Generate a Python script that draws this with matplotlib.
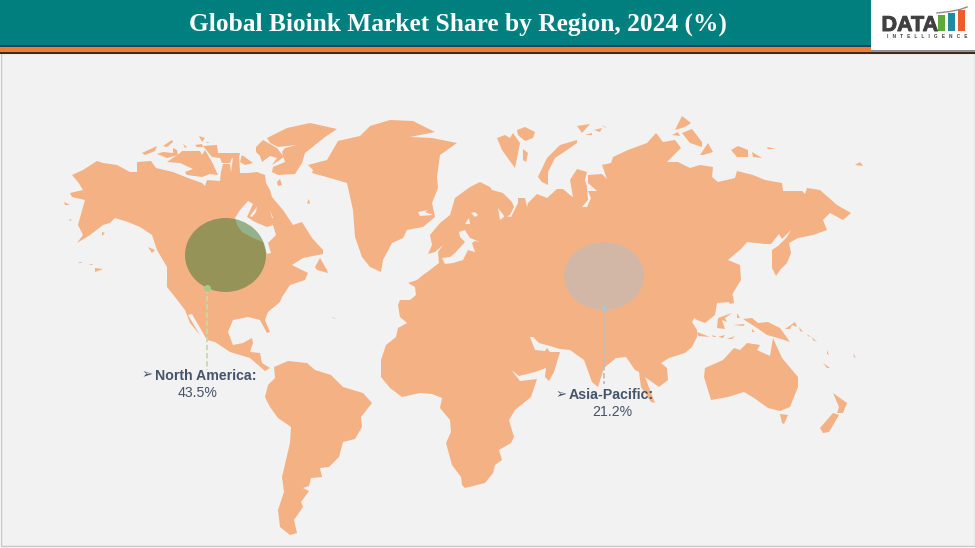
"""Global bioink market share map, drawn on a pixel-sized axes."""
import matplotlib
matplotlib.use("Agg")
import matplotlib.patheffects as pe
import matplotlib.pyplot as plt
from matplotlib.patches import Ellipse, Polygon, Rectangle

TITLE = "Global Bioink Market Share by Region, 2024 (%)"
REGIONS = ["North America", "Asia-Pacific"]
SHARES = [43.5, 21.2]

LAND_COLOR = "#F4B183"
SEA_COLOR = "#F2F2F2"
INK = "#44546A"
TEXT_FONTS = ["Liberation Sans", "DejaVu Sans"]

# outlines, in image pixels
NORTH_AMERICA = [
    (72, 175), (83, 170), (97, 161), (103, 163), (117, 165), (130, 172), (137, 172), (137, 162),
    (151, 161), (156, 168), (173, 172), (188, 178), (202, 183), (205, 186), (207, 180), (220, 181),
    (221, 172), (223, 164), (230, 164), (231, 172), (233, 158), (239, 154), (240, 173), (248, 173),
    (257, 172), (265, 175), (266, 183), (270, 190), (272, 197), (283, 210), (293, 225), (302, 222),
    (312, 238), (323, 250), (323, 254), (303, 258), (292, 265), (308, 273), (305, 280), (290, 285),
    (282, 297), (280, 302), (268, 312), (265, 320), (270, 332), (267, 333), (260, 320), (248, 317),
    (233, 320), (228, 332), (233, 345), (243, 343), (252, 338), (253, 343), (250, 352), (260, 353),
    (262, 363), (270, 368), (265, 371), (250, 358), (230, 352), (215, 342), (207, 340), (192, 314),
    (188, 315), (200, 335), (190, 323), (185, 310), (175, 297), (167, 287), (167, 267), (157, 250),
    (152, 235), (140, 227), (128, 222), (115, 218), (110, 223), (103, 225), (90, 235), (77, 243),
    (83, 235), (78, 225), (83, 207), (85, 200), (72, 197), (70, 193), (83, 190), (78, 182),
]
SOUTH_AMERICA = [
    (274, 367), (288, 361), (307, 363), (315, 370), (331, 375), (343, 387), (363, 393), (372, 403),
    (361, 417), (362, 427), (355, 439), (343, 442), (339, 457), (329, 467), (320, 468), (322, 477),
    (311, 478), (309, 486), (303, 488), (309, 491), (301, 502), (303, 507), (294, 520), (297, 533),
    (290, 535), (280, 527), (278, 510), (284, 492), (282, 477), (290, 443), (291, 427), (278, 418),
    (270, 407), (265, 397), (268, 385), (275, 378),
]
GREENLAND = [
    (308, 165), (327, 160), (338, 141), (360, 136), (370, 126), (390, 120), (413, 121), (435, 132),
    (410, 137), (432, 138), (457, 143), (440, 155), (437, 177), (438, 188), (432, 203), (435, 217),
    (423, 227), (407, 230), (403, 238), (392, 243), (383, 260), (381, 272), (370, 267), (362, 257),
    (355, 237), (353, 210), (347, 183), (330, 178), (312, 173), (313, 170),
]
AFRO_EURASIA = [
    # Scandinavia and the Arctic coast
    (428, 254), (432, 245), (430, 235), (440, 223), (450, 215), (455, 198), (470, 187), (480, 182),
    (490, 187), (492, 190), (503, 193), (512, 202), (514, 207), (510, 215), (505, 217), (498, 208),
    (500, 220), (505, 216), (511, 217), (518, 203), (518, 198), (525, 198), (527, 207), (528, 203),
    (537, 194), (547, 198), (557, 189), (563, 189), (570, 195), (573, 197), (570, 180), (577, 169),
    (587, 172), (585, 180), (587, 187), (588, 200), (582, 207), (587, 207), (591, 198), (588, 191),
    (597, 191), (588, 183), (588, 175), (602, 174), (607, 179), (602, 165), (611, 163), (613, 157),
    (628, 150), (647, 143), (656, 133), (663, 142), (675, 140), (681, 148), (667, 162), (678, 162),
    (690, 168), (700, 165), (713, 167), (712, 177), (718, 182), (735, 178), (737, 171), (753, 175),
    (765, 180), (782, 183), (783, 191), (802, 191), (805, 194), (807, 188), (820, 190), (837, 205),
    (851, 213), (843, 220), (830, 213), (823, 220), (827, 230), (813, 235),
    # Kamchatka and the Pacific side
    (798, 238), (789, 243), (791, 253), (787, 263), (780, 270), (776, 276), (772, 268), (772, 250),
    (778, 246), (787, 237), (791, 230), (782, 239), (779, 234), (771, 244), (765, 244), (747, 242),
    (742, 248), (728, 260), (740, 265), (741, 280), (733, 293), (730, 302), (717, 303), (715, 315),
    (705, 323), (697, 320), (688, 313), (695, 308), (698, 312), (692, 322), (697, 330), (697, 337),
    (692, 347), (685, 353), (669, 358), (661, 363), (667, 368), (668, 380), (659, 387), (645, 377),
    (655, 403), (651, 402), (641, 387), (639, 372), (635, 370), (626, 357), (616, 358), (604, 368),
    (598, 387), (592, 382), (584, 360), (570, 350), (560, 349), (550, 346), (539, 343), (533, 337),
    (530, 337), (535, 350), (545, 351), (547, 348), (550, 352), (560, 352), (554, 372), (549, 381),
    (545, 377), (546, 368), (535, 372), (519, 376), (509, 368), (503, 353), (494, 338),
    # Africa
    (501, 345), (507, 360), (513, 372), (520, 381), (537, 379), (531, 397), (515, 410), (509, 420),
    (514, 437), (511, 443), (499, 450), (502, 460), (495, 465), (493, 473), (485, 483), (465, 488),
    (462, 485), (461, 477), (452, 465), (446, 443), (451, 432), (450, 420), (440, 408), (442, 398),
    (432, 394), (420, 393), (402, 397), (390, 388), (381, 377), (381, 360), (386, 345), (396, 337),
    (398, 328), (407, 323), (400, 317),
    # western Europe
    (398, 305), (400, 300), (410, 300), (416, 295), (415, 287), (408, 283), (417, 280), (423, 275),
    (430, 270), (439, 263), (438, 252), (443, 245), (435, 252),
]
AUSTRALIA = [
    (705, 368), (723, 360), (734, 348), (740, 350), (747, 343), (760, 345), (757, 350), (770, 356),
    (773, 338), (782, 358), (798, 377), (798, 387), (790, 407), (780, 411), (768, 408), (754, 398),
    (744, 392), (728, 397), (711, 400), (704, 377),
]
ISLANDS = [
    # Canadian Arctic
    [(267, 138), (287, 128), (310, 123), (337, 129), (325, 137), (305, 153), (302, 163), (295, 174),
     (278, 175), (272, 172), (273, 167), (285, 162), (282, 152), (285, 148), (297, 145), (278, 147),
     (270, 143)],
    [(256, 147), (263, 140), (277, 148), (284, 157), (272, 165), (277, 158), (270, 156), (262, 162),
     (260, 156), (256, 152)],
    [(167, 162), (180, 153), (182, 151), (200, 151), (202, 155), (205, 150), (212, 162), (218, 175),
     (210, 174), (202, 177), (187, 175), (185, 172), (193, 169), (180, 163)],
    [(203, 146), (217, 145), (218, 153), (240, 153), (239, 157), (232, 158), (230, 163), (222, 163),
     (220, 158), (212, 157)],
    [(157, 154), (163, 152), (173, 153), (173, 148), (177, 150), (178, 155), (167, 158)],
    [(242, 155), (253, 163), (245, 165), (240, 162)],
    [(142, 153), (157, 146), (155, 151), (145, 155)],
    [(163, 146), (172, 140), (173, 142), (167, 147)],
    [(199, 136), (205, 138), (202, 142)],
    [(206, 142), (210, 142), (207, 143)],
    [(183, 144), (187, 147), (185, 148)],
    [(195, 145), (202, 144), (203, 147), (197, 147)],
    [(277, 182), (280, 179), (282, 185), (278, 186)],
    [(307, 203), (309, 199), (310, 204)],
    # Pacific coast and Atlantic Canada
    [(148, 247), (155, 250), (152, 253)],
    [(78, 262), (83, 262), (80, 263)],
    [(88, 264), (93, 264), (92, 265)],
    [(95, 268), (103, 269), (95, 272)],
    [(64, 202), (70, 205), (65, 205)],
    [(69, 219), (72, 220), (70, 221)],
    [(102, 232), (105, 233), (102, 236)],
    [(315, 267), (320, 258), (327, 270), (328, 273), (317, 270)],
    [(332, 317), (337, 319), (333, 318)],
    # Russian Arctic
    [(497, 138), (505, 135), (510, 138), (513, 133), (520, 143), (515, 168), (507, 157), (502, 150)],
    [(517, 130), (525, 127), (535, 132), (533, 138), (525, 141), (518, 135)],
    [(523, 149), (528, 153), (526, 162), (523, 160)],
    [(538, 177), (547, 158), (560, 145), (577, 140), (577, 143), (567, 150), (555, 158), (548, 172),
     (548, 185), (542, 182)],
    [(577, 126), (590, 124), (582, 133)],
    [(585, 135), (592, 133), (592, 135)],
    [(594, 130), (602, 128), (600, 132)],
    [(602, 125), (607, 128), (604, 127)],
    [(675, 130), (682, 116), (691, 123), (685, 127)],
    [(672, 135), (678, 132), (680, 136)],
    [(682, 133), (692, 129), (702, 142), (702, 147), (690, 143)],
    [(700, 155), (708, 143), (713, 152), (703, 155)],
    [(731, 150), (738, 146), (748, 150), (748, 157), (737, 157)],
    [(752, 152), (762, 158), (753, 157)],
    [(767, 147), (776, 149), (768, 149)],
    [(855, 165), (860, 162), (863, 166)],
    # East Asia and Oceania
    [(728, 300), (733, 295), (734, 303), (730, 304)],
    [(718, 318), (732, 313), (725, 318), (727, 322), (722, 320), (725, 329), (717, 328)],
    [(737, 313), (740, 318), (737, 318)],
    [(733, 325), (745, 324), (743, 326)],
    [(743, 319), (752, 318), (758, 323), (768, 322), (780, 328), (790, 342), (778, 338), (767, 335),
     (757, 328)],
    [(752, 329), (755, 332), (752, 332)],
    [(697, 332), (710, 337), (698, 336)],
    [(712, 335), (717, 337), (713, 337)],
    [(718, 337), (725, 335), (723, 338)],
    [(727, 339), (735, 336), (732, 339)],
    [(785, 329), (795, 322), (797, 327), (792, 325), (790, 329)],
    [(799, 327), (803, 332), (800, 331)],
    [(807, 334), (811, 337), (808, 336)],
    [(812, 337), (817, 342), (813, 340)],
    [(827, 350), (829, 355), (827, 354)],
    [(823, 363), (830, 368), (827, 368)],
    [(853, 353), (856, 358), (854, 357)],
    [(780, 414), (788, 415), (784, 424), (782, 423)],
    [(833, 393), (847, 403), (843, 413), (837, 413), (839, 407)],
    [(833, 413), (839, 415), (829, 432), (823, 433), (820, 428)],
]
# inland water cut back out of the land
WATER = [
    [(235, 218), (240, 210), (248, 201), (253, 204), (247, 217), (255, 222), (267, 227), (273, 225),
     (276, 235), (268, 243), (271, 253), (267, 254), (263, 242), (253, 238), (242, 232), (237, 225)],
    [(250, 216), (256, 208), (257, 206), (256, 212), (252, 217)],
    [(270, 210), (273, 218), (272, 218)],
    [(459, 232), (465, 230), (470, 238), (480, 242), (475, 241), (472, 243), (475, 252), (468, 250),
     (463, 260), (453, 263), (445, 264), (442, 258), (450, 257), (455, 253), (465, 242), (460, 237)],
    [(471, 213), (475, 212), (478, 215), (475, 217)],
    [(465, 224), (469, 218), (470, 224)],
    [(418, 212), (428, 210), (425, 212), (433, 215), (420, 216)],
]
LOGO_BAR_COLORS = ["#5BAA3C", "#1F8AA0", "#F15A29"]
LOGO_BAR_TOPS = [15, 13, 10]

fig = plt.figure(figsize=(9.75, 5.48), dpi=100, facecolor="white")
ax = fig.add_axes([0, 0, 1, 1])
ax.set_xlim(0, 975)
ax.set_ylim(548, 0)
ax.axis("off")

# panel and header bands
ax.add_patch(Rectangle((0.5, 53), 974, 493, facecolor=SEA_COLOR, edgecolor="#C8C8C8", lw=1))
ax.add_patch(Rectangle((0, 0), 975, 45, facecolor="#007F7F", lw=0))
ax.add_patch(Rectangle((0, 45), 975, 2, facecolor="#17465A", lw=0))
ax.add_patch(Rectangle((0, 47), 975, 5, facecolor="#ED7D31", lw=0))
ax.add_patch(Rectangle((0, 52), 975, 1.5, facecolor="#3A2A20", lw=0))
ax.text(457.5, 24, TITLE, color="white", ha="center", va="center", fontsize=18.3,
        fontweight="bold", family="Liberation Serif")

# logo
ax.add_patch(Rectangle((871, 2), 104, 49, facecolor="#8C8C8C", lw=0))
ax.add_patch(Rectangle((871, 0), 104, 49.5, facecolor="white", lw=0))
logo = ax.text(881.5, 31, "DATA", color="#404040", ha="left", va="baseline", fontsize=15.5,
               fontweight="bold", family="Liberation Sans")
logo.set_path_effects([pe.withStroke(linewidth=0.7, foreground="#404040")])
for i, (color, top) in enumerate(zip(LOGO_BAR_COLORS, LOGO_BAR_TOPS)):
    ax.add_patch(Rectangle((938 + i * 10, top), 6.5, 31 - top, facecolor=color, lw=0))
ax.plot([937, 950, 960, 967], [13, 11.5, 9.5, 7], color="#8C8C8C", lw=1)
ax.text(927, 37, "I   N   T   E   L   L   I   G   E   N   C   E", color="#404040",
        ha="center", va="center", fontsize=3.4, fontweight="bold", family="Liberation Sans")

# map
for outline in [NORTH_AMERICA, SOUTH_AMERICA, GREENLAND, AFRO_EURASIA, AUSTRALIA] + ISLANDS:
    ax.add_patch(Polygon(outline, closed=True, facecolor=LAND_COLOR, lw=0, zorder=2))
for outline in WATER:
    ax.add_patch(Polygon(outline, closed=True, facecolor=SEA_COLOR, lw=0, zorder=3))

# bubbles with leader lines
ax.add_patch(Ellipse((225.5, 255), 81, 74, facecolor="#497C35", alpha=0.55, lw=0, zorder=4))
ax.add_patch(Ellipse((604, 276), 80, 68, facecolor="#B6BDC3", alpha=0.55, lw=0, zorder=4))
ax.plot([207, 207], [288, 370], color="#C5DBA8", lw=1.3, ls=(0, (3, 1.5)), zorder=5)
ax.plot([604, 604], [308, 384], color="#BDBDBD", lw=1.3, ls=(0, (3, 1.5)), zorder=5)
ax.plot(207, 288, "o", color="#A9C98A", ms=5, mew=0, zorder=5)
ax.plot(604, 308, "o", color="#BFBFBF", ms=5, mew=0, zorder=5)

# labels
ax.text(142, 375.5, "\u27a2", color=INK, ha="left", va="center", fontsize=9.5, family=TEXT_FONTS, zorder=6)
ax.text(155, 375.5, f"{REGIONS[0]}:", color=INK, ha="left", va="center", fontsize=10.2,
        fontweight="bold", family=TEXT_FONTS, zorder=6)
ax.text(197.5, 393, f"{SHARES[0]}%", color=INK, ha="center", va="center", fontsize=10.2,
        family=TEXT_FONTS, zorder=6)
ax.text(556, 395, "\u27a2", color=INK, ha="left", va="center", fontsize=9.5, family=TEXT_FONTS, zorder=6)
ax.text(569, 395, f"{REGIONS[1]}:", color=INK, ha="left", va="center", fontsize=10.2,
        fontweight="bold", family=TEXT_FONTS, zorder=6)
ax.text(612, 412.5, f"{SHARES[1]}%", color=INK, ha="center", va="center", fontsize=10.2,
        family=TEXT_FONTS, zorder=6)

fig.savefig("out.png", dpi=100)
